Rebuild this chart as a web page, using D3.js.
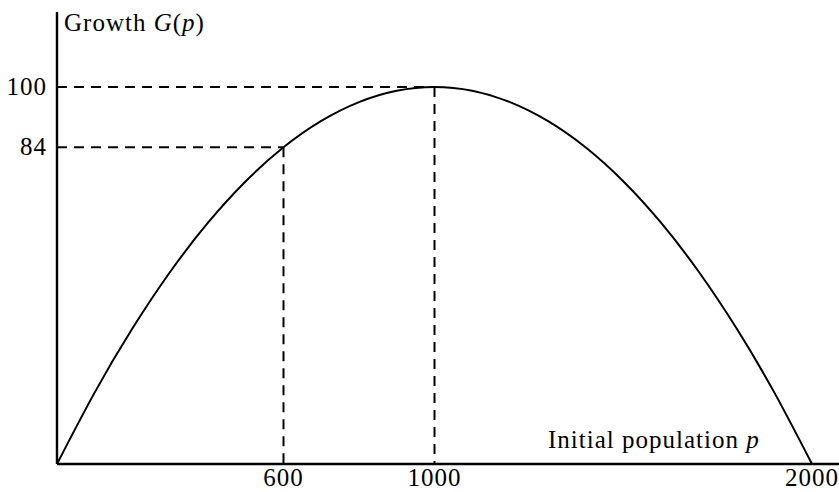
<!DOCTYPE html>
<html>
<head>
<meta charset="utf-8">
<script src="https://cdn.jsdelivr.net/npm/d3@7"></script>
<style>
  body { margin: 0; background: #fff; }
  text { font-family: "Liberation Serif", "DejaVu Serif", serif; fill: #000; letter-spacing: 1px; }
</style>
</head>
<body>
<svg id="chart" width="839" height="492"></svg>
<script>
// population values sampled along the curve
var population = [0, 100, 200, 300, 400, 500, 600, 700, 800, 900, 1000,
                  1100, 1200, 1300, 1400, 1500, 1600, 1700, 1800, 1900, 2000];
// growth at those points
var growth = [0, 19, 36, 51, 64, 75, 84, 91, 96, 99, 100,
              99, 96, 91, 84, 75, 64, 51, 36, 19, 0];
// marked points (dashed guides)
var markedP = [600, 1000];
var markedG = [84, 100];
var xTicks = [600, 1000, 2000];
var yTicks = [84, 100];

var svg = d3.select("#chart");
var fontSize = 25;

var x = d3.scaleLinear().domain([0, 2000]).range([57, 812]);
var y = d3.scaleLinear().domain([0, 100]).range([464, 87]);

var data = population.map(function(p, i) { return {p: p, g: growth[i]}; });

// dashed guides
markedP.forEach(function(p, i) {
  var g = markedG[i];
  svg.append("line")
      .attr("x1", x(0)).attr("x2", x(p))
      .attr("y1", y(g)).attr("y2", y(g))
      .attr("stroke", "#000").attr("stroke-width", 2)
      .attr("stroke-dasharray", "10,7");
  svg.append("line")
      .attr("x1", x(p)).attr("x2", x(p))
      .attr("y1", y(g)).attr("y2", y(0))
      .attr("stroke", "#000").attr("stroke-width", 2)
      .attr("stroke-dasharray", "10,7");
});

// curve
var line = d3.line()
    .x(function(d) { return x(d.p); })
    .y(function(d) { return y(d.g); })
    .curve(d3.curveNatural);

svg.append("path")
    .datum(data)
    .attr("d", line)
    .attr("fill", "none")
    .attr("stroke", "#000")
    .attr("stroke-width", 2);

// axes
svg.append("line")
    .attr("x1", x(0)).attr("x2", 839)
    .attr("y1", y(0)).attr("y2", y(0))
    .attr("stroke", "#000").attr("stroke-width", 2.4);
svg.append("line")
    .attr("x1", x(0)).attr("x2", x(0))
    .attr("y1", 12).attr("y2", y(0))
    .attr("stroke", "#000").attr("stroke-width", 2.4);

// tick labels
svg.selectAll("text.xtick")
    .data(xTicks)
    .enter().append("text")
        .attr("class", "xtick")
        .attr("x", function(d) { return x(d); })
        .attr("y", 486)
        .style("text-anchor", "middle")
        .style("font-size", fontSize + "px")
        .text(function(d) { return d; });

svg.selectAll("text.ytick")
    .data(yTicks)
    .enter().append("text")
        .attr("class", "ytick")
        .attr("x", 47)
        .attr("y", function(d) { return y(d) + 8; })
        .style("text-anchor", "end")
        .style("font-size", fontSize + "px")
        .text(function(d) { return d; });

// axis titles
var yTitle = svg.append("text")
    .attr("x", 64)
    .attr("y", 31)
    .style("font-size", fontSize + "px");
yTitle.append("tspan").text("Growth ");
yTitle.append("tspan").style("font-style", "italic").text("G");
yTitle.append("tspan").text("(");
yTitle.append("tspan").style("font-style", "italic").text("p");
yTitle.append("tspan").text(")");

var xTitle = svg.append("text")
    .attr("x", 548)
    .attr("y", 448)
    .style("font-size", fontSize + "px");
xTitle.append("tspan").text("Initial population ");
xTitle.append("tspan").style("font-style", "italic").text("p");
</script>
</body>
</html>
